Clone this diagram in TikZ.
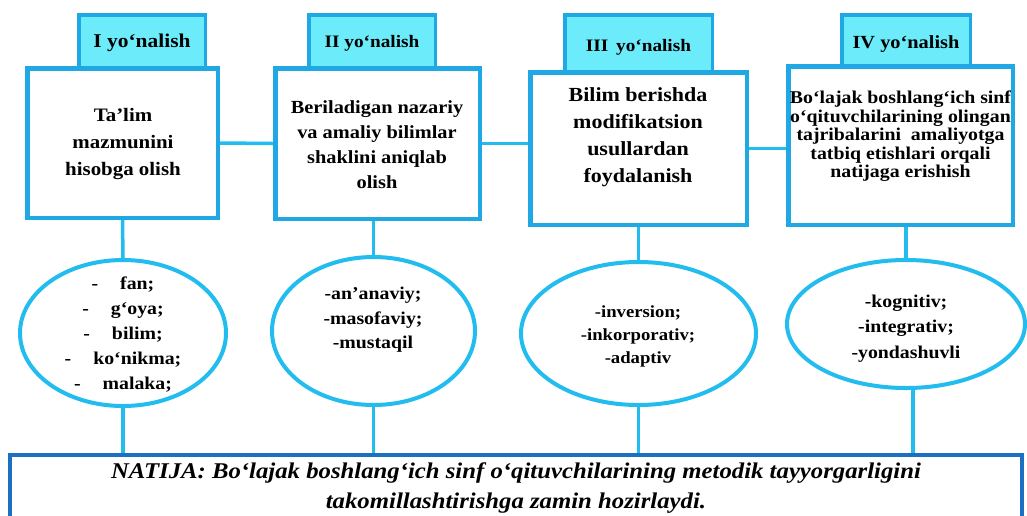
\documentclass[tikz,border=0pt]{standalone}
\usepackage{fontspec}
\setmainfont{Liberation Serif}[FakeStretch=1.1]
\usetikzlibrary{shapes.geometric}

\definecolor{boxblue}{HTML}{1FA8E4}
\definecolor{linecyan}{HTML}{22BDEE}
\definecolor{headfill}{HTML}{6CECFB}
\definecolor{resblue}{HTML}{1C6FC2}
\newcommand{\sz}[2]{\fontsize{#1}{#2}\selectfont}

\begin{document}
\begin{tikzpicture}[x=1pt,y=-1pt,
    head/.style={rectangle,draw=boxblue,line width=3.5pt,fill=headfill,inner sep=0pt,font={\bfseries\sz{17.5}{20}}},
    card/.style={rectangle,draw=boxblue,line width=4.5pt,fill=white,inner sep=0pt},
    bubble/.style={ellipse,draw=linecyan,line width=4pt,fill=white,inner sep=0pt},
    result/.style={rectangle,draw=resblue,line width=4pt,fill=white,inner sep=0pt},
    txt/.style={align=center,inner sep=0pt},
    link/.style={draw=linecyan,line width=3.5pt}]
\useasboundingbox (0,0) rectangle (1027,515);

\begin{scope}[every node/.style={head}]
    \node[minimum width=126.5pt,minimum height=55pt,font={\bfseries\sz{19.5}{22}}] (h1) at (142,42.5) {I yo‘nalish};
    \node[minimum width=126.5pt,minimum height=56pt] (h2) at (372,43) {II yo‘nalish};
    \node[minimum width=147.5pt,minimum height=64pt] (h3) at (638.5,47) {III\, yo‘nalish};
    \node[minimum width=128.5pt,minimum height=58pt,font={\bfseries\sz{18.5}{21}}] (h4) at (906,44) {IV yo‘nalish};
\end{scope}

\begin{scope}[every node/.style={card}]
    \node[minimum width=190.5pt,minimum height=149.5pt] (b1) at (122.5,143) {};
    \node[minimum width=204.5pt,minimum height=150.5pt] (b2) at (377.5,143.5) {};
    \node[minimum width=216.5pt,minimum height=152.5pt] (b3) at (638.5,148.5) {};
    \node[minimum width=224.5pt,minimum height=158.5pt] (b4) at (900.5,145.5) {};
\end{scope}

\begin{scope}[every node/.style={txt}]
    \node[font={\bfseries\sz{19}{27}}] (t1) at (123,144) {Ta’lim\\mazmunini\\hisobga olish};
    \node[font={\bfseries\sz{18.5}{25}}] (t2) at (377,145) {Beriladigan nazariy\\va amaliy bilimlar\\shaklini aniqlab\\olish};
    \node[font={\bfseries\sz{20}{27}}] (t3) at (638,137.5) {Bilim berishda\\modifikatsion\\usullardan\\foydalanish};
    \node[font={\bfseries\sz{18}{18.5}}] (t4) at (900.5,136.5) {Bo‘lajak boshlang‘ich sinf\\o‘qituvchilarining olingan\\tajribalarini\ \ amaliyotga\\tatbiq etishlari orqali\\natijaga erishish};
\end{scope}

\begin{scope}[every node/.style={bubble}]
    \node[minimum width=206pt,minimum height=146pt] (e1) at (123,333) {};
    \node[minimum width=203pt,minimum height=148pt] (e2) at (373.5,331) {};
    \node[minimum width=235pt,minimum height=143pt] (e3) at (638.5,333.5) {};
    \node[minimum width=238pt,minimum height=128pt] (e4) at (906,324) {};
\end{scope}

\begin{scope}[every node/.style={txt}]
    \node[font={\bfseries\sz{18}{25}}] (l1) at (123,335) {-\hspace{22pt}fan;\\-\hspace{22pt}g‘oya;\\-\hspace{22pt}bilim;\\-\hspace{22pt}ko‘nikma;\\-\hspace{22pt}malaka;};
    \node[font={\bfseries\sz{18}{24.5}}] (l2) at (373,320) {-an’anaviy;\\-masofaviy;\\-mustaqil};
    \node[font={\bfseries\sz{17}{23}}] (l3) at (638,336) {-inversion;\\-inkorporativ;\\-adaptiv};
    \node[font={\bfseries\sz{18}{25.5}}] (l4) at (906,328.5) {-kognitiv;\\-integrativ;\\-yondashuvli};
\end{scope}

\node[result,minimum width=1012pt,minimum height=105pt] (res) at (516,507.5) {};
\node[txt,font={\bfseries\itshape\sz{22.5}{30}}] (rt) at (516,488) {NATIJA: Bo‘lajak boshlang‘ich sinf o‘qituvchilarining metodik tayyorgarligini\\takomillashtirishga zamin hozirlaydi.};

\begin{scope}
    \path [link] (b1.east) -- (b2.west);
    \path [link] (b2.east) -- (b2.east -| b3.west);
    \path [link] (b3.east) -- (b3.east -| b4.west);
    \path [link] (b1.south) -- (e1.north);
    \path [link] (e2.north |- b2.south) -- (e2.north);
    \path [link] (b3.south) -- (e3.north);
    \path [link] (e4.north |- b4.south) -- (e4.north);
    \path [link] (e1.south) -- (e1.south |- res.north);
    \path [link] (e2.south) -- (e2.south |- res.north);
    \path [link] (e3.south) -- (e3.south |- res.north);
    \path [link] ([xshift=7pt]e4.south) -- ([xshift=7pt]e4.south |- res.north);
\end{scope}
\end{tikzpicture}
\end{document}
